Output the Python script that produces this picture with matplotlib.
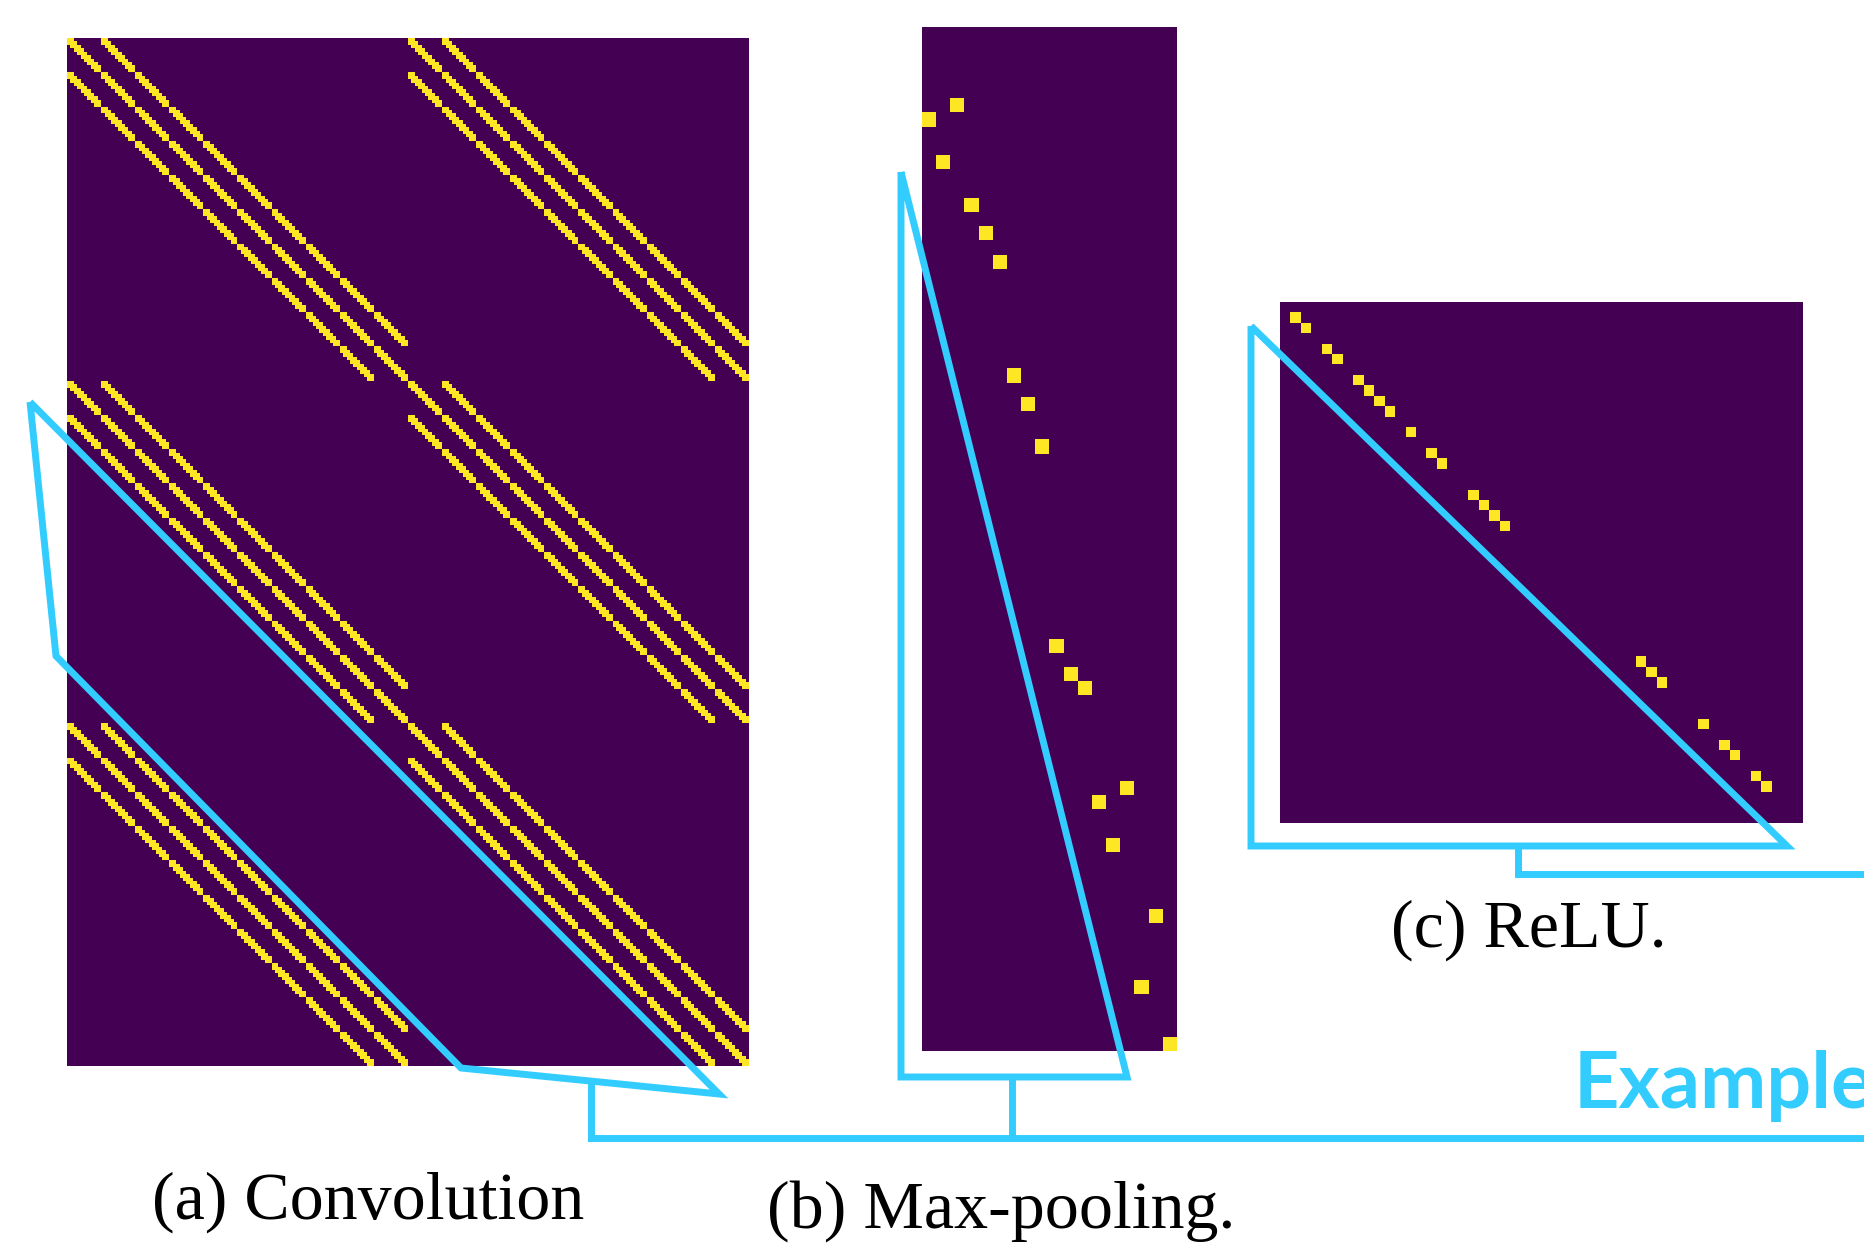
import numpy as np
import matplotlib
matplotlib.use("Agg")
import matplotlib.pyplot as plt

# ---- data ----
# (a) convolution: 3x3 kernel, padding 1, on a 10x10 grid; 3 row blocks x 2 column blocks
conv_grid = 10
conv_row_blocks = 3
conv_col_blocks = 2
kernel_taps = [-1, 0, 1]

# (b) max-pooling: 72 inputs -> 18 outputs, row picked by each output column
pool_n_in = 72
pool_rows = [6, 9, 5, 12, 14, 16, 24, 26, 29, 43, 45, 46, 54, 57, 53, 67, 62, 71]

# (c) ReLU: 50x50 diagonal, positions that stay active
relu_n = 50
relu_active = [1, 2, 4, 5, 7, 8, 9, 10, 12, 14, 15, 18, 19, 20, 21,
               34, 35, 36, 40, 42, 43, 45, 46]

captions = ["(a) Convolution", "(b) Max-pooling.", "(c) ReLU."]

# cyan overlay shapes (pixel coords of the 1864x1245 canvas)
conv_outline = [(30, 402), (56, 656), (461, 1068), (719, 1094), (30, 402)]
pool_outline = [(901, 172), (901, 1077), (1127, 1077), (901, 172)]
relu_outline = [(1251, 326), (1251, 846), (1787, 846), (1251, 326)]
bracket_main = [(591, 1081), (591, 1138), (1864, 1138)]
bracket_pool = [(1012, 1077), (1012, 1138)]
bracket_relu = [(1518, 846), (1518, 874), (1864, 874)]
cyan = "#33ccff"

# ---- build matrices ----
n = conv_grid * conv_grid
block = np.zeros((n, n))
for p in range(conv_grid):
    for q in range(conv_grid):
        for di in kernel_taps:
            for dj in kernel_taps:
                i, j = p + di, q + dj
                if 0 <= i < conv_grid and 0 <= j < conv_grid:
                    block[p * conv_grid + q, i * conv_grid + j] = 1
conv = np.tile(block, (conv_row_blocks, conv_col_blocks))

pool = np.zeros((pool_n_in, len(pool_rows)))
for c, r in enumerate(pool_rows):
    pool[r, c] = 1

relu = np.zeros((relu_n, relu_n))
for k in relu_active:
    relu[k, k] = 1

W, H = 1864, 1245
fig = plt.figure(figsize=(W / 100, H / 100), dpi=100)


def px_axes(x0, y0, x1, y1):
    return fig.add_axes([x0 / W, 1 - y1 / H, (x1 - x0) / W, (y1 - y0) / H])


ax_a = px_axes(67, 38, 749, 1066)
ax_a.imshow(conv, cmap="viridis", vmin=0, vmax=1, aspect="auto", interpolation="nearest")
ax_b = px_axes(922, 27, 1177, 1051)
ax_b.imshow(pool, cmap="viridis", vmin=0, vmax=1, aspect="auto", interpolation="nearest")
ax_c = px_axes(1280, 302, 1803, 823)
ax_c.imshow(relu, cmap="viridis", vmin=0, vmax=1, aspect="auto", interpolation="nearest")
for ax in (ax_a, ax_b, ax_c):
    ax.set_axis_off()

# overlay in pixel coordinates
ov = fig.add_axes([0, 0, 1, 1], zorder=10)
ov.set_xlim(0, W)
ov.set_ylim(H, 0)
ov.set_axis_off()
ov.patch.set_alpha(0)

for shape in (conv_outline, pool_outline, relu_outline,
              bracket_main, bracket_pool, bracket_relu):
    xs, ys = zip(*shape)
    ov.plot(xs, ys, color=cyan, lw=5, solid_joinstyle="miter", solid_capstyle="butt",
            clip_on=False)

serif = ["Liberation Serif", "DejaVu Serif"]
ov.text(152, 1219, captions[0], family=serif, fontsize=49, va="baseline", ha="left")
ov.text(767, 1228, captions[1], family=serif, fontsize=49, va="baseline", ha="left")
ov.text(1391, 947, captions[2], family=serif, fontsize=49, va="baseline", ha="left")
ov.text(1574, 1108, "Example", family=["Lato", "DejaVu Sans"], fontweight="bold",
        fontsize=57, color=cyan, va="baseline", ha="left", clip_on=False)

fig.savefig("out.png", dpi=100)
